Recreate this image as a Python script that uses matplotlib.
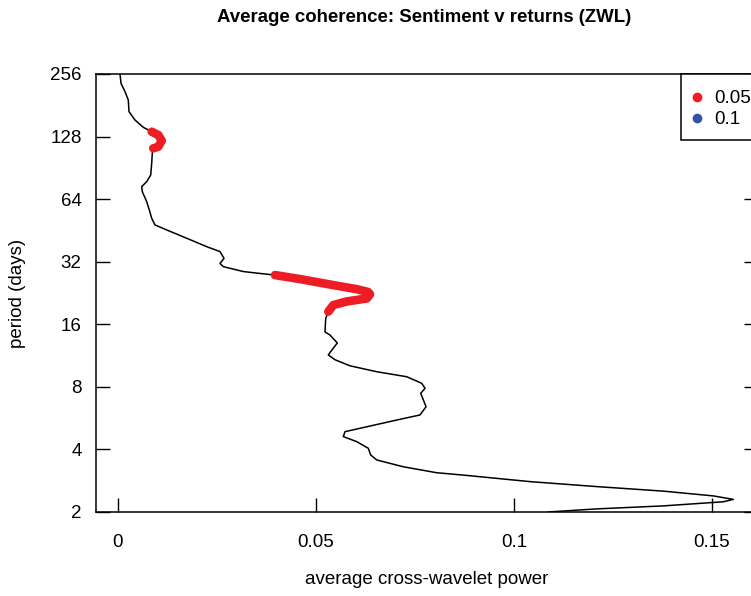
import numpy as np
import matplotlib
matplotlib.use("Agg")
import matplotlib.pyplot as plt
from matplotlib.lines import Line2D
from matplotlib.patches import Rectangle

# Average coherence curve (top to bottom)
period = [256, 230.9, 210.4, 192.0, 168.7, 153.8, 141.8, 135.1, 130.2, 122.3,
          114.4, 112.4, 106.4, 95.2, 83.6, 77.7, 73.5, 69.5, 62.2, 56.8,
          51.8, 48.1, 45.5, 41.5, 37.8, 35.8, 33.2, 31.4, 30.3, 28.7,
          28.2, 27.6, 26.4, 24.7, 23.6, 22.9, 22.3, 21.3, 20.6, 19.8,
          18.4, 17.1, 14.7, 14.2, 13.0, 12.0, 11.4, 10.8, 10.1, 9.46,
          8.95, 8.32, 7.87, 7.45, 6.42, 5.86, 5.54, 5.14, 4.87, 4.61,
          4.36, 4.05, 3.76, 3.56, 3.30, 3.09, 3.01, 2.80, 2.65, 2.52,
          2.39, 2.30, 2.24, 2.14, 2.07, 2.0]
power = [0.00051, 0.00076, 0.00177, 0.0026, 0.00278, 0.00429, 0.00639, 0.00851, 0.01018, 0.01104,
         0.01018, 0.00891, 0.00866, 0.00851, 0.00826, 0.00725, 0.00598, 0.00614, 0.00725, 0.0079,
         0.00851, 0.00934, 0.0123, 0.01735, 0.0224, 0.02576, 0.02677, 0.02576, 0.02659, 0.03164,
         0.0351, 0.03965, 0.04596, 0.05437, 0.06028, 0.06313, 0.06364, 0.0628, 0.05775, 0.05437,
         0.0531, 0.05245, 0.05227, 0.05354, 0.05538, 0.05396, 0.0531, 0.0548, 0.05859, 0.06533,
         0.0729, 0.07669, 0.07753, 0.07644, 0.07778, 0.07626, 0.07038, 0.0628, 0.05732, 0.05689,
         0.06028, 0.06321, 0.06381, 0.06533, 0.07205, 0.08048, 0.0872, 0.10404, 0.12088, 0.1377,
         0.15033, 0.15538, 0.15285, 0.1377, 0.12088, 0.1086]

# period bands significant at the 0.05 level
sig05_bands = [(112.4, 135.1), (18.4, 27.6)]

period_ticks = [2, 4, 8, 16, 32, 64, 128, 256]
power_ticks = [0, 0.05, 0.1, 0.15]
power_labels = ["0", "0.05", "0.1", "0.15"]

col_05 = "#ee1c25"
col_10 = "#3552a8"

plt.rcParams["font.family"] = ["Liberation Sans", "DejaVu Sans"]

W, H = 751, 596
fig = plt.figure(figsize=(W / 100, H / 100), dpi=100)
left, right, top, bottom = 95.5, 758, 74, 512
aw, ah = right - left, bottom - top
ax = fig.add_axes([left / W, 1 - bottom / H, aw / W, ah / H])

period = np.array(period)
power = np.array(power)
ax.plot(power, period, color="black", lw=1.1, solid_joinstyle="round", zorder=2)
for lo, hi in sig05_bands:
    m = (period >= lo) & (period <= hi)
    ax.plot(power[m], period[m], color=col_05, lw=6.2,
            solid_capstyle="round", solid_joinstyle="round", zorder=3)

ax.set_yscale("log", base=2)
ax.set_ylim(2, 256)
ax.set_xlim(-0.00568, 0.1616)
ax.set_yticks(period_ticks)
ax.set_yticklabels([str(p) for p in period_ticks])
ax.yaxis.set_minor_locator(matplotlib.ticker.NullLocator())
ax.set_xticks(power_ticks)
ax.set_xticklabels(power_labels)

ax.tick_params(direction="in", length=10, width=1, labelsize=13.5,
               colors="black", right=True, top=False)
ax.tick_params(axis="y", pad=10)
ax.tick_params(axis="x", pad=16)
for s in ax.spines.values():
    s.set_linewidth(1.1)
    s.set_color("black")

fig.text(424 / W, 1 - 18 / H, "Average coherence: Sentiment v returns (ZWL)",
         ha="center", va="center", fontsize=13.4, fontweight="bold")
fig.text(427 / W, 1 - 580 / H, "average cross-wavelet power",
         ha="center", va="center", fontsize=13.5)
fig.text(18 / W, 1 - 293 / H, "period (days)", rotation=90,
         ha="center", va="center", fontsize=13.5)

# legend box (R style, runs off the right edge)
box = Rectangle(((681 - left) / aw, (bottom - 140) / ah), 0.2, 66 / ah,
                transform=ax.transAxes, facecolor="white", edgecolor="black",
                lw=1.1, clip_on=False, zorder=4)
ax.add_patch(box)
handles = [Line2D([], [], ls="none", marker="o", ms=6, color=col_05),
           Line2D([], [], ls="none", marker="o", ms=6, color=col_10)]
leg = ax.legend(handles, ["0.05", "0.1"], loc="upper left",
                bbox_to_anchor=((692.3 - left) / aw, (bottom - 90) / ah),
                borderaxespad=0, borderpad=0, frameon=False, fontsize=13.5,
                handlelength=0.5, handletextpad=0.65, labelspacing=0.22)
leg.set_zorder(5)

fig.savefig("out.png", dpi=100)
